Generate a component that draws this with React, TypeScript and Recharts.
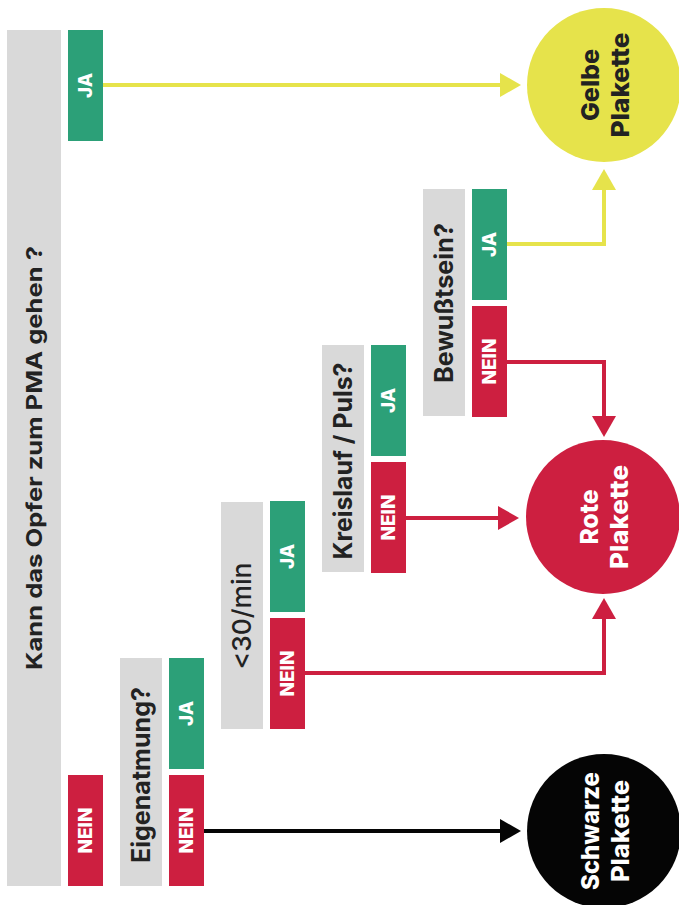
import React from "react";
import { ComposedChart, XAxis, YAxis, ReferenceArea, ReferenceDot, Scatter } from "recharts";

// ---- content ----
const questions = [
  "Kann das Opfer zum PMA gehen ?",
  "Eigenatmung?",
  "<30/min",
  "Kreislauf / Puls?",
  "Bewußtsein?",
];
const yesLabel = "JA";
const noLabel = "NEIN";
const outcomes = [
  ["Gelbe", "Plakette"],
  ["Rote", "Plakette"],
  ["Schwarze", "Plakette"],
];

// ---- layout in data units of the hidden axes ----
const questionCols = [[7, 61], [120, 162], [221, 263], [322, 364], [423, 465]];
const questionRows = [[30, 886], [658, 886], [502, 729], [345, 572], [189, 416]];
const answerCols = [[68, 103], [169, 204], [270, 305], [371, 406], [472, 507]];
const yesRows = [[30, 141], [658, 769], [501, 612], [345, 456], [189, 300]];
const noRows = [[775, 886], [775, 886], [618, 729], [462, 573], [306, 417]];
const outcomeCenters = [[604, 85], [603, 517], [604, 831]];

const connectorYellowA = [{ x: 103, y: 85 }, { x: 502, y: 85 }];
const connectorYellowB = [{ x: 507, y: 244 }, { x: 604, y: 244 }, { x: 604, y: 188 }];
const connectorRedA = [{ x: 507, y: 362 }, { x: 604, y: 362 }, { x: 604, y: 418 }];
const connectorRedB = [{ x: 406, y: 518 }, { x: 500, y: 518 }];
const connectorRedC = [{ x: 305, y: 673 }, { x: 604, y: 673 }, { x: 604, y: 617 }];
const connectorBlack = [{ x: 204, y: 831 }, { x: 502, y: 831 }];

const arrowsYellow = [{ x: 521, y: 85, dir: "right" }, { x: 604, y: 169, dir: "up" }];
const arrowsRed = [{ x: 604, y: 437, dir: "down" }, { x: 519, y: 518, dir: "right" }, { x: 604, y: 598, dir: "up" }];
const arrowsBlack = [{ x: 521, y: 831, dir: "right" }];

// ---- styles ----
const GRAY = "#d9d9d9";
const GREEN = "#2ca078";
const RED = "#cd1f40";
const YELLOW = "#e6e34b";
const BLACK = "#050505";
const DARK = "#222222";
const FONT = "Inter, sans-serif";

const qStyle = [
  { size: 22, weight: 700, len: 424, cy: 458 },
  { size: 25, weight: 700, len: 176, cy: 775 },
  { size: 26, weight: 500, len: 107, cy: 616 },
  { size: 25, weight: 700, len: 197, cy: 461 },
  { size: 25, weight: 700, len: 160, cy: 303 },
];

function VText({ cx, cy, base, text, size, weight, fill, len }: any) {
  return (
    <text
      x={cx}
      y={cy}
      dy={base - cx}
      transform={`rotate(-90 ${cx} ${cy})`}
      textAnchor="middle"
      fontSize={size}
      fontWeight={weight}
      fill={fill}
      fontFamily={FONT}
      textLength={len}
      lengthAdjust="spacingAndGlyphs"
    >
      {text}
    </text>
  );
}

const boxShape = (fill: string, text: string, st: any, textFill: string, textCy?: number) => (p: any) => {
  const cx = p.x + p.width / 2;
  const cy = textCy ?? p.y + p.height / 2;
  return (
    <g>
      <rect x={p.x} y={p.y} width={p.width} height={p.height} fill={fill} />
      <VText cx={cx} cy={cy} base={cx + st.size * 0.36} text={text} size={st.size} weight={st.weight} fill={textFill} len={st.len} />
    </g>
  );
};

const ansStyleYes = { size: 19, weight: 800, len: 25 };
const ansStyleNo = { size: 19, weight: 800, len: 46 };

const circleShape = (fill: string, lines: string[], textFill: string, lens: number[]) => (p: any) => (
  <g>
    <circle cx={p.cx} cy={p.cy} r={77} fill={fill} />
    <VText cx={p.cx} cy={p.cy} base={p.cx - 5} text={lines[0]} size={25} weight={800} fill={textFill} len={lens[0]} />
    <VText cx={p.cx} cy={p.cy} base={p.cx + 25} text={lines[1]} size={25} weight={800} fill={textFill} len={lens[1]} />
  </g>
);

const arrowShape = (fill: string) => (p: any) => {
  const { cx, cy } = p;
  const dir = p.payload?.dir;
  const L = 21, Hw = 12;
  let pts = "";
  if (dir === "right") pts = `${cx},${cy} ${cx - L},${cy - Hw} ${cx - L},${cy + Hw}`;
  else if (dir === "up") pts = `${cx},${cy} ${cx - Hw},${cy + L} ${cx + Hw},${cy + L}`;
  else pts = `${cx},${cy} ${cx - Hw},${cy - L} ${cx + Hw},${cy - L}`;
  return <polygon points={pts} fill={fill} />;
};

const noShape = () => <g />;

const circleLens = [[72, 105], [55, 104], [118, 102]];
const circleFills = [YELLOW, RED, BLACK];
const circleText = [DARK, "#ffffff", "#ffffff"];

export default function App() {
  const connectors: [any[], string][] = [
    [connectorYellowA, YELLOW],
    [connectorYellowB, YELLOW],
    [connectorRedA, RED],
    [connectorRedB, RED],
    [connectorRedC, RED],
    [connectorBlack, BLACK],
  ];
  return (
    <div style={{ width: 679, height: 905, background: "#fff" }}>
      <style>{"body{margin:0}"}</style>
      <ComposedChart width={679} height={905} margin={{ top: 0, right: 0, bottom: 0, left: 0 }}>
        <XAxis type="number" dataKey="x" domain={[0, 679]} hide allowDataOverflow />
        <YAxis type="number" dataKey="y" domain={[0, 905]} hide reversed allowDataOverflow />
        {connectors.map(([d, c], i) => (
          <Scatter
            key={"c" + i}
            data={d}
            fill={c}
            line={{ stroke: c, strokeWidth: 4, strokeLinejoin: "miter" }}
            shape={noShape}
            isAnimationActive={false}
          />
        ))}
        <Scatter data={arrowsYellow} fill={YELLOW} shape={arrowShape(YELLOW)} isAnimationActive={false} />
        <Scatter data={arrowsRed} fill={RED} shape={arrowShape(RED)} isAnimationActive={false} />
        <Scatter data={arrowsBlack} fill={BLACK} shape={arrowShape(BLACK)} isAnimationActive={false} />
        {questions.map((q, i) => (
          <ReferenceArea
            key={"q" + i}
            x1={questionCols[i][0]}
            x2={questionCols[i][1]}
            y1={questionRows[i][0]}
            y2={questionRows[i][1]}
            shape={boxShape(GRAY, q, qStyle[i], DARK, qStyle[i].cy)}
          />
        ))}
        {answerCols.map((c, i) => (
          <ReferenceArea
            key={"y" + i}
            x1={c[0]}
            x2={c[1]}
            y1={yesRows[i][0]}
            y2={yesRows[i][1]}
            shape={boxShape(GREEN, yesLabel, ansStyleYes, "#ffffff")}
          />
        ))}
        {answerCols.map((c, i) => (
          <ReferenceArea
            key={"n" + i}
            x1={c[0]}
            x2={c[1]}
            y1={noRows[i][0]}
            y2={noRows[i][1]}
            shape={boxShape(RED, noLabel, ansStyleNo, "#ffffff")}
          />
        ))}
        {outcomes.map((o, i) => (
          <ReferenceDot
            key={"o" + i}
            x={outcomeCenters[i][0]}
            y={outcomeCenters[i][1]}
            r={77}
            ifOverflow="visible"
            shape={circleShape(circleFills[i], o, circleText[i], circleLens[i])}
          />
        ))}
      </ComposedChart>
    </div>
  );
}
